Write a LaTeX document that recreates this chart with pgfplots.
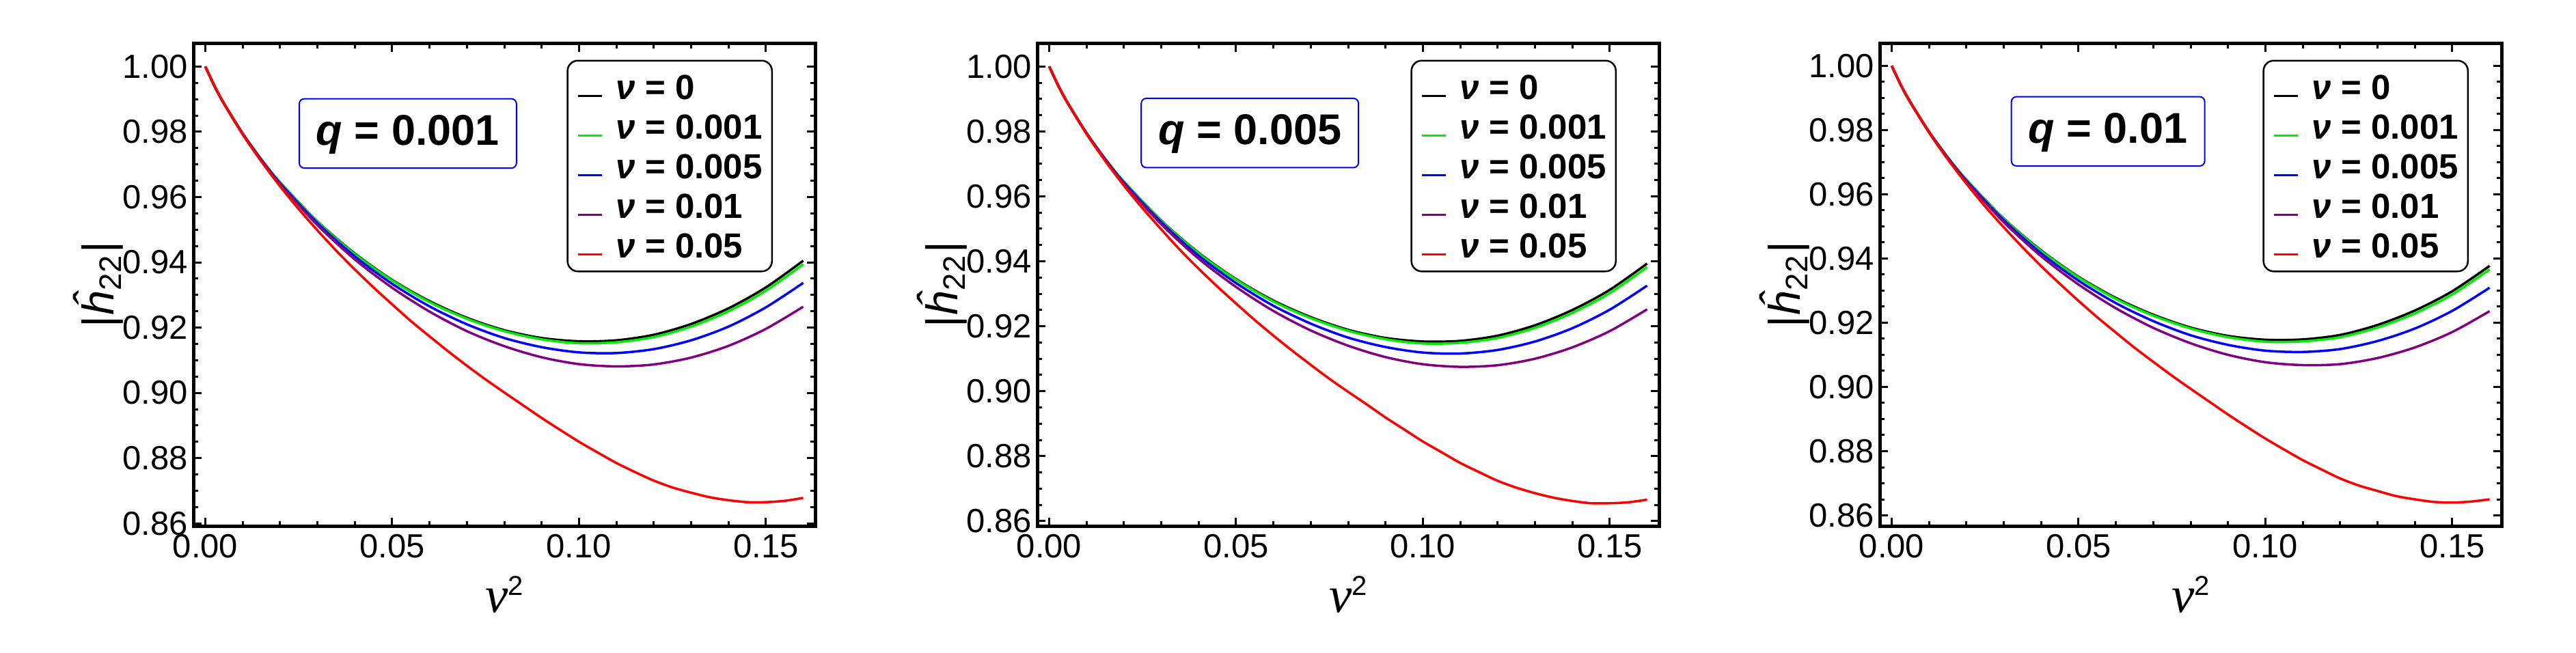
\documentclass[border=0pt]{standalone}
\usepackage{fontspec}
\setmainfont{Liberation Sans}
\newfontfamily\serifit{Liberation Serif}
\usepackage{pgfplots}
\pgfplotsset{compat=1.18}
\usepackage{pgfplotstable}
\definecolor{cgreen}{rgb}{0,0.92,0}
\definecolor{cpurple}{rgb}{0.5,0,0.5}

\pgfplotstableread{
x       k       g       b       p
0       1.0000  1.0000  1.0000  1.0000
0.0025  0.9939  0.9939  0.9939  0.9939
0.005   0.9887  0.9887  0.9886  0.9886
0.01    0.9795  0.9795  0.9794  0.9793
0.015   0.9715  0.9715  0.9714  0.9711
0.02    0.9645  0.9645  0.9642  0.9639
0.03    0.9525  0.9524  0.9520  0.9514
0.04    0.9427  0.9425  0.9418  0.9409
0.05    0.9346  0.9344  0.9334  0.9322
0.06    0.9281  0.9278  0.9265  0.9249
0.07    0.9230  0.9227  0.9210  0.9189
0.08    0.9192  0.9189  0.9168  0.9143
0.09    0.9168  0.9164  0.9140  0.9109
0.10    0.9158  0.9152  0.9124  0.9088
0.11    0.9161  0.9155  0.9122  0.9081
0.12    0.9178  0.9171  0.9134  0.9087
0.13    0.9211  0.9203  0.9161  0.9108
0.14    0.9259  0.9250  0.9203  0.9144
0.15    0.9323  0.9313  0.9262  0.9196
0.16    0.9405  0.9394  0.9337  0.9264
}\tA

\pgfplotstableread{
x       k       g       b       p
0       1.0000  1.0000  1.0000  1.0000
0.0025  0.9939  0.9939  0.9939  0.9939
0.005   0.9887  0.9887  0.9886  0.9886
0.01    0.9795  0.9795  0.9794  0.9793
0.015   0.9715  0.9715  0.9714  0.9711
0.02    0.9645  0.9645  0.9642  0.9639
0.03    0.9525  0.9524  0.9520  0.9514
0.04    0.9426  0.9424  0.9417  0.9408
0.05    0.9345  0.9343  0.9333  0.9321
0.06    0.9279  0.9276  0.9263  0.9247
0.07    0.9228  0.9225  0.9208  0.9187
0.08    0.9189  0.9186  0.9165  0.9140
0.09    0.9164  0.9160  0.9136  0.9105
0.10    0.9153  0.9147  0.9119  0.9083
0.11    0.9155  0.9149  0.9116  0.9075
0.12    0.9171  0.9164  0.9127  0.9080
0.13    0.9203  0.9195  0.9153  0.9100
0.14    0.9250  0.9241  0.9194  0.9135
0.15    0.9312  0.9302  0.9251  0.9185
0.16    0.9393  0.9382  0.9325  0.9252
}\tB

\pgfplotstableread{
x       k       g       b       p
0       1.0000  1.0000  1.0000  1.0000
0.0025  0.9939  0.9939  0.9939  0.9939
0.005   0.9887  0.9887  0.9886  0.9886
0.01    0.9795  0.9795  0.9794  0.9793
0.015   0.9715  0.9715  0.9714  0.9711
0.02    0.9645  0.9645  0.9642  0.9639
0.03    0.9524  0.9523  0.9519  0.9513
0.04    0.9425  0.9423  0.9416  0.9407
0.05    0.9343  0.9341  0.9331  0.9319
0.06    0.9277  0.9274  0.9261  0.9245
0.07    0.9225  0.9222  0.9205  0.9184
0.08    0.9185  0.9182  0.9161  0.9136
0.09    0.9159  0.9155  0.9131  0.9100
0.10    0.9147  0.9141  0.9113  0.9077
0.11    0.9148  0.9142  0.9109  0.9068
0.12    0.9162  0.9155  0.9118  0.9071
0.13    0.9193  0.9185  0.9143  0.9090
0.14    0.9238  0.9229  0.9182  0.9123
0.15    0.9298  0.9288  0.9237  0.9171
0.16    0.9377  0.9366  0.9309  0.9236
}\tC

% nu = 0.05 curves (denser sampling)
\pgfplotstableread{
x r
0 1.0000
0.0025 0.9939
0.005 0.9886
0.01 0.9792
0.015 0.9709
0.02 0.9633
0.025 0.9563
0.03 0.9498
0.035 0.9436
0.04 0.9378
0.045 0.9323
0.05 0.9271
0.055 0.9220
0.06 0.9173
0.065 0.9127
0.07 0.9083
0.075 0.9041
0.08 0.9001
0.085 0.8962
0.09 0.8923
0.095 0.8886
0.10 0.8850
0.105 0.8817
0.11 0.8785
0.115 0.8757
0.12 0.8731
0.125 0.8710
0.13 0.8694
0.135 0.8680
0.14 0.8671
0.145 0.8665
0.15 0.8665
0.155 0.8669
0.16 0.8678
}\rA

\pgfplotstableread{
x r
0 1.0000
0.0025 0.9939
0.005 0.9886
0.01 0.9792
0.015 0.9709
0.02 0.9633
0.025 0.9563
0.03 0.9498
0.035 0.9435
0.04 0.9377
0.045 0.9322
0.05 0.9270
0.055 0.9219
0.06 0.9171
0.065 0.9125
0.07 0.9081
0.075 0.9038
0.08 0.8998
0.085 0.8959
0.09 0.8919
0.095 0.8882
0.10 0.8845
0.105 0.8812
0.11 0.8779
0.115 0.8751
0.12 0.8724
0.125 0.8703
0.13 0.8686
0.135 0.8672
0.14 0.8662
0.145 0.8655
0.15 0.8655
0.155 0.8658
0.16 0.8666
}\rB

\pgfplotstableread{
x r
0 1.0000
0.0025 0.9939
0.005 0.9886
0.01 0.9792
0.015 0.9709
0.02 0.9633
0.025 0.9562
0.03 0.9497
0.035 0.9435
0.04 0.9376
0.045 0.9321
0.05 0.9268
0.055 0.9217
0.06 0.9169
0.065 0.9122
0.07 0.9078
0.075 0.9035
0.08 0.8994
0.085 0.8954
0.09 0.8914
0.095 0.8876
0.10 0.8839
0.105 0.8805
0.11 0.8772
0.115 0.8743
0.12 0.8715
0.125 0.8693
0.13 0.8676
0.135 0.8660
0.14 0.8650
0.145 0.8642
0.15 0.8640
0.155 0.8643
0.16 0.8650
}\rC

\tikzset{
  qbox/.style={draw=blue, line width=0.4pt, rounded corners=1.5pt, inner xsep=5pt, inner ysep=4.5pt,
    text height=9pt, text depth=2.3pt, font=\bfseries\fontsize{12.6}{14}\selectfont},
  cur/.style={line width=0.7pt, smooth},
}

\pgfplotsset{
  panel/.style={
    scale only axis, width=182pt, height=141.3pt,
    xmin=-0.0032, xmax=0.1632,
    axis line style={line width=1pt},
    tick align=inside,
    major tick length=2.4pt, minor tick length=1.4pt,
    tick style={line width=0.6pt, black},
    xtick={0,0.05,0.1,0.15}, xticklabels={0.00,0.05,0.10,0.15},
    ytick={0.86,0.88,0.90,0.92,0.94,0.96,0.98,1.00},
    yticklabels={0.86,0.88,0.90,0.92,0.94,0.96,0.98,1.00},
    minor x tick num=4, minor y tick num=3,
    ticklabel style={font=\fontsize{9.8}{10}\selectfont},
    xticklabel style={inner sep=0pt, yshift=-2.3pt},
    yticklabel style={inner sep=0pt, xshift=-1.4pt},
    xlabel={{\serifit\fontsize{15}{15}\selectfont\textit{ν}}\raisebox{0.95ex}{\fontsize{8}{8}\selectfont 2}},
    ylabel={\fontsize{13}{13}\selectfont |\kern0.3pt\textit{\^h}\textsubscript{22}\kern0.3pt|},
    xlabel style={at={(axis description cs:0.5,-0.1415)}, anchor=center, inner sep=0pt},
    ylabel style={at={(axis description cs:-0.1527,0.5)}, anchor=center, inner sep=0pt},
    legend cell align=left,
    legend style={draw=black, line width=0.5pt, rounded corners=3pt,
      inner xsep=2.8pt, inner ysep=4pt, row sep=4.3pt,
      font=\bfseries\fontsize{10.2}{12}\selectfont,
      nodes={inner sep=0pt, text height=7.3pt, text depth=0pt},
      /tikz/every odd column/.append style={column sep=3.8pt}},
    legend image code/.code={\draw[#1, line width=0.6pt, rounded corners=0pt] (0pt,-2.6pt) -- (7pt,-2.6pt);},
    legend entries={{\textit{ν} = 0},{\textit{ν} = 0.001},{\textit{ν} = 0.005},{\textit{ν} = 0.01},{\textit{ν} = 0.05}},
  },
}

\begin{document}
\begin{tikzpicture}
\path[use as bounding box] (0,0) rectangle (754pt,191pt);

\begin{axis}[panel, at={(56.6pt,37pt)}, anchor=south west, ymin=0.8592, ymax=1.0071,
  legend style={at={(axis description cs:1,1)}, anchor=north east, xshift=-12.4pt, yshift=-4.8pt}]
\addplot[cur, black] table[x=x,y=k]{\tA};
\addplot[cur, cgreen] table[x=x,y=g]{\tA};
\addplot[cur, blue] table[x=x,y=b]{\tA};
\addplot[cur, cpurple] table[x=x,y=p]{\tA};
\addplot[cur, red] table[x=x,y=r]{\rA};
\node[qbox] at (axis cs:0.0542,0.9795) {\textit{q} = 0.001};
\end{axis}

\begin{axis}[panel, at={(303.6pt,37pt)}, anchor=south west, ymin=0.8585, ymax=1.0071,
  legend style={at={(axis description cs:1,1)}, anchor=north east, xshift=-12.4pt, yshift=-4.8pt}]
\addplot[cur, black] table[x=x,y=k]{\tB};
\addplot[cur, cgreen] table[x=x,y=g]{\tB};
\addplot[cur, blue] table[x=x,y=b]{\tB};
\addplot[cur, cpurple] table[x=x,y=p]{\tB};
\addplot[cur, red] table[x=x,y=r]{\rB};
\node[qbox] at (axis cs:0.0537,0.9795) {\textit{q} = 0.005};
\end{axis}

\begin{axis}[panel, at={(550.2pt,37pt)}, anchor=south west, ymin=0.8567, ymax=1.0070,
  legend style={at={(axis description cs:1,1)}, anchor=north east, xshift=-9.6pt, yshift=-4.8pt}]
\addplot[cur, black] table[x=x,y=k]{\tC};
\addplot[cur, cgreen] table[x=x,y=g]{\tC};
\addplot[cur, blue] table[x=x,y=b]{\tC};
\addplot[cur, cpurple] table[x=x,y=p]{\tC};
\addplot[cur, red] table[x=x,y=r]{\rC};
\node[qbox] at (axis cs:0.0579,0.9796) {\textit{q} = 0.01};
\end{axis}
\end{tikzpicture}
\end{document}
